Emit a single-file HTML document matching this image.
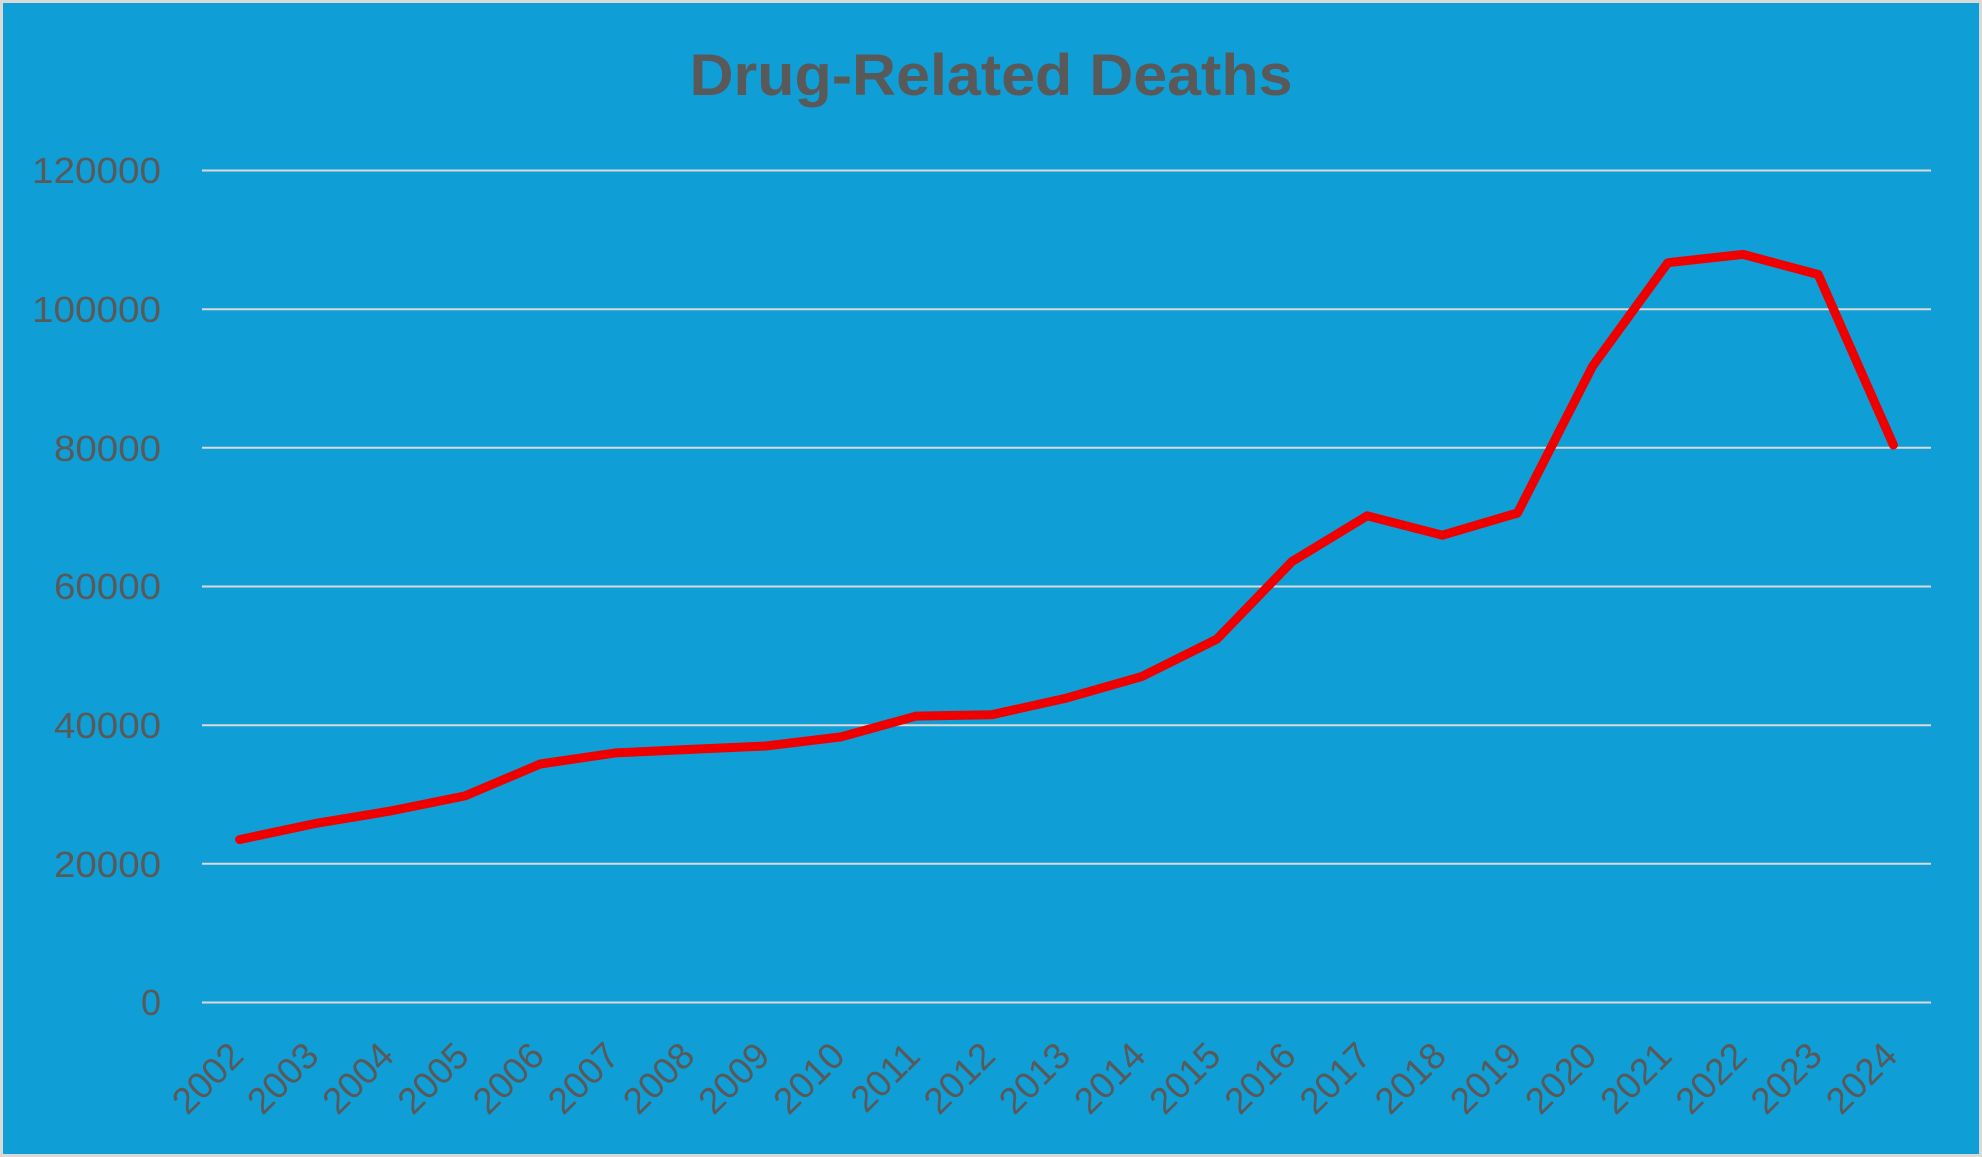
<!DOCTYPE html>
<html><head><style>
html,body{margin:0;padding:0;background:#d9d9d9;}
svg{display:block;}
text{font-family:"Liberation Sans",sans-serif;fill:#595959;}
</style></head><body>
<svg width="1982" height="1157" viewBox="0 0 1982 1157" xmlns="http://www.w3.org/2000/svg">
<rect x="0" y="0" width="1982" height="1157" fill="#d9d9d9"/>
<rect x="3" y="3" width="1976" height="1151" fill="#109ed6"/>
<text x="991" y="95" font-size="58" font-weight="bold" text-anchor="middle" textLength="603" lengthAdjust="spacingAndGlyphs">Drug-Related Deaths</text>
<g stroke="#d9d9d9" stroke-width="2">
<line x1="202" x2="1931" y1="170.5" y2="170.5"/>
<line x1="202" x2="1931" y1="309.2" y2="309.2"/>
<line x1="202" x2="1931" y1="447.8" y2="447.8"/>
<line x1="202" x2="1931" y1="586.5" y2="586.5"/>
<line x1="202" x2="1931" y1="725.2" y2="725.2"/>
<line x1="202" x2="1931" y1="863.8" y2="863.8"/>
<line x1="202" x2="1931" y1="1002.5" y2="1002.5"/>
</g>
<g font-size="36" text-anchor="end">
<text x="161" y="183" textLength="129" lengthAdjust="spacingAndGlyphs">120000</text>
<text x="161" y="322" textLength="129" lengthAdjust="spacingAndGlyphs">100000</text>
<text x="161" y="461" textLength="107" lengthAdjust="spacingAndGlyphs">80000</text>
<text x="161" y="599" textLength="107" lengthAdjust="spacingAndGlyphs">60000</text>
<text x="161" y="738" textLength="107" lengthAdjust="spacingAndGlyphs">40000</text>
<text x="161" y="877" textLength="107" lengthAdjust="spacingAndGlyphs">20000</text>
<text x="161" y="1015">0</text>
</g>
<g font-size="37" text-anchor="end" id="xl"></g>
<polyline id="ln" fill="none" stroke="#ee0000" stroke-width="9" stroke-linejoin="round" stroke-linecap="round" points=""/>
<script>
var v=[23500,25800,27600,29800,34400,36000,36500,37000,38300,41300,41500,43900,47000,52400,63600,70200,67400,70600,91800,106700,107900,105000,80400];
var pts=[],g=document.getElementById('xl');
for(var i=0;i<23;i++){var x=202+(i+0.5)*1729/23;var y=1002.5-v[i]/20000*138.67;pts.push(x.toFixed(1)+','+y.toFixed(1));
var t=document.createElementNS('http://www.w3.org/2000/svg','text');var tx=x+6,ty=1058;
t.setAttribute('x',tx);t.setAttribute('y',ty);t.setAttribute('transform','rotate(-45 '+tx+' '+ty+')');t.textContent=String(2002+i);g.appendChild(t);}
document.getElementById('ln').setAttribute('points',pts.join(' '));
</script>
</svg>
</body></html>
